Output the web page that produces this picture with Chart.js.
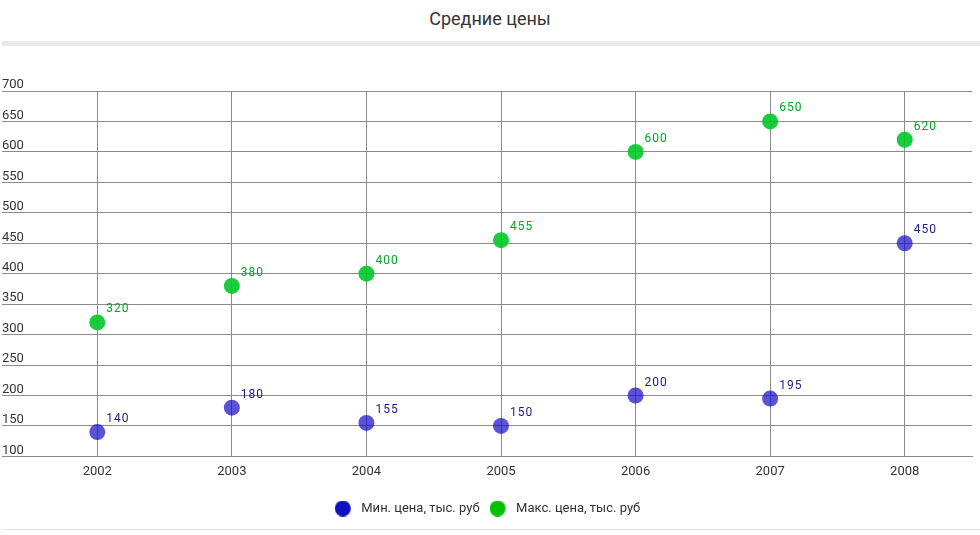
<!DOCTYPE html>
<html>
<head>
<meta charset="utf-8">
<script src="https://cdn.jsdelivr.net/npm/chart.js@4"></script>
<style>
    body { margin: 0; background: #fff; font-family: Roboto, sans-serif; }
    #title { height: 41px; line-height: 38px; text-align: center; font-size: 18px; color: #333; }
    #bar { height: 5px; background: #e8e8e8; margin-left: 2px; }
    #wrap { position: relative; width: 980px; height: 483px; }
    #line { height: 1px; background: #e0e0e0; margin-left: 2px; }
</style>
</head>
<body>
<div id="title">Средние цены</div>
<div id="bar"></div>
<div id="wrap"><canvas id="chart"></canvas></div>
<div id="line"></div>
<script>
// chart data
const years = ['2002', '2003', '2004', '2005', '2006', '2007', '2008'];
const minPrices = [140, 180, 155, 150, 200, 195, 450];
const maxPrices = [320, 380, 400, 455, 600, 650, 620];
const seriesNames = ['Мин. цена, тыс. руб', 'Макс. цена, тыс. руб'];

const legendColors = ['#1010c0', '#00c000'];
const pointColors = ['rgba(20, 10, 200, 0.7)', 'rgba(0, 200, 40, 0.9)'];
const labelColors = ['#1a1a8c', '#00a826'];

// round markers for the legend, drawn as small images
// (circle sits at the left of a 20px wide image)
function legendDot(color) {
    const c = document.createElement('canvas');
    c.width = 20; c.height = 16;
    const g = c.getContext('2d');
    g.fillStyle = color;
    g.beginPath();
    g.arc(8, 8, 8, 0, Math.PI * 2);
    g.fill();
    return c;
}
const dots = legendColors.map(legendDot);

// value labels to the upper right of each point
const valueLabels = {
    id: 'valueLabels',
    afterDatasetsDraw(chart) {
        const ctx = chart.ctx;
        ctx.save();
        ctx.font = '12px Roboto';
        ctx.letterSpacing = '1px';
        ctx.textAlign = 'left';
        ctx.textBaseline = 'middle';
        chart.data.datasets.forEach((ds, i) => {
            const meta = chart.getDatasetMeta(i);
            ctx.fillStyle = labelColors[i];
            meta.data.forEach((pt, j) => {
                ctx.fillText(String(ds.data[j]), pt.x + 9, pt.y - 13);
            });
        });
        ctx.restore();
    }
};

new Chart(document.getElementById('chart'), {
    type: 'line',
    data: {
        labels: years,
        datasets: [minPrices, maxPrices].map((vals, i) => ({
            label: seriesNames[i],
            data: vals,
            showLine: false,
            pointRadius: 8,
            pointHoverRadius: 8,
            pointBorderWidth: 0,
            pointBackgroundColor: pointColors[i],
            borderColor: pointColors[i],
            backgroundColor: pointColors[i]
        }))
    },
    options: {
        responsive: true,
        maintainAspectRatio: false,
        animation: false,
        layout: { padding: { top: 45, left: 2, right: 7, bottom: 4 } },
        plugins: {
            title: { display: false },
            tooltip: { enabled: false },
            legend: {
                position: 'bottom',
                labels: {
                    usePointStyle: true,
                    pointStyleWidth: 20,
                    boxHeight: 13,
                    padding: 10,
                    color: '#333',
                    font: { family: 'Roboto', size: 13 },
                    generateLabels(chart) {
                        return chart.data.datasets.map((ds, i) => ({
                            text: ds.label,
                            pointStyle: dots[i],
                            fillStyle: legendColors[i],
                            strokeStyle: legendColors[i],
                            lineWidth: 0,
                            fontColor: '#333',
                            hidden: false,
                            datasetIndex: i
                        }));
                    }
                }
            }
        },
        scales: {
            x: {
                offset: true,
                afterFit(scale) { scale.height += 4; },
                grid: { color: '#8c8c8c', drawTicks: false, offset: false },
                border: { color: '#8c8c8c' },
                ticks: { color: '#333', padding: 8, font: { family: 'Roboto', size: 13 } }
            },
            y: {
                min: 100,
                max: 700,
                afterFit(scale) { scale.width = 28; },
                grid: { color: '#8c8c8c', tickLength: 28, tickColor: '#8c8c8c' },
                border: { display: false },
                ticks: {
                    stepSize: 50,
                    autoSkip: false,
                    crossAlign: 'far',
                    labelOffset: -6,
                    padding: 0,
                    color: '#333',
                    font: { family: 'Roboto', size: 13 }
                }
            }
        }
    },
    plugins: [valueLabels]
});
</script>
</body>
</html>
